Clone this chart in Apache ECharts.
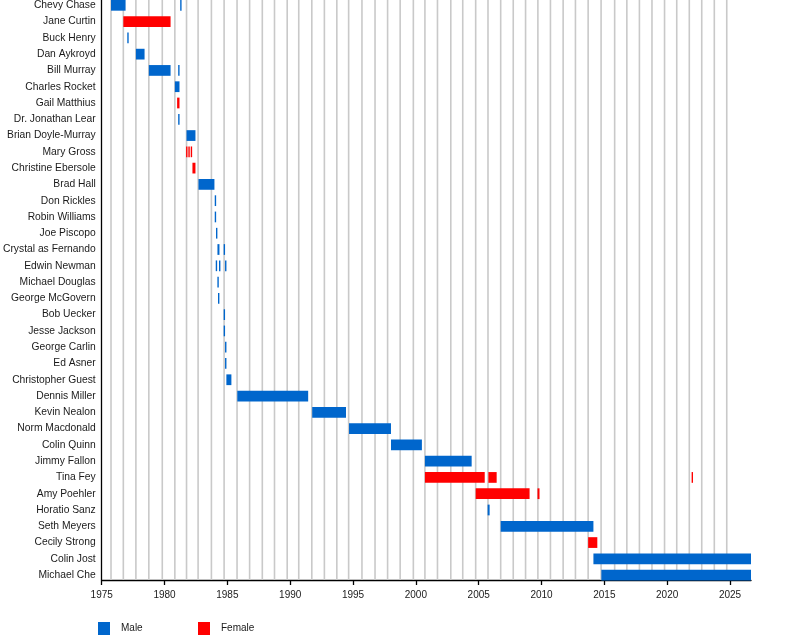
<!DOCTYPE html>
<html>
<head>
<meta charset="utf-8">
<script src="https://cdn.jsdelivr.net/npm/echarts@6/dist/echarts.min.js"></script>
<style>
  html, body { margin: 0; padding: 0; background: #fff; }
  #chart { width: 800px; height: 640px; }
</style>
</head>
<body>
<div id="chart"></div>
<script>
  const anchors = [
    "Chevy Chase", "Jane Curtin", "Buck Henry", "Dan Aykroyd", "Bill Murray",
    "Charles Rocket", "Gail Matthius", "Dr. Jonathan Lear", "Brian Doyle-Murray",
    "Mary Gross", "Christine Ebersole", "Brad Hall", "Don Rickles", "Robin Williams",
    "Joe Piscopo", "Crystal as Fernando", "Edwin Newman", "Michael Douglas",
    "George McGovern", "Bob Uecker", "Jesse Jackson", "George Carlin", "Ed Asner",
    "Christopher Guest", "Dennis Miller", "Kevin Nealon", "Norm Macdonald",
    "Colin Quinn", "Jimmy Fallon", "Tina Fey", "Amy Poehler", "Horatio Sanz",
    "Seth Meyers", "Cecily Strong", "Colin Jost", "Michael Che"
  ];
  const genders = [
    "Male", "Female", "Male", "Male", "Male",
    "Male", "Female", "Male", "Male",
    "Female", "Female", "Male", "Male", "Male",
    "Male", "Male", "Male", "Male",
    "Male", "Male", "Male", "Male", "Male",
    "Male", "Male", "Male", "Male",
    "Male", "Male", "Female", "Female", "Male",
    "Male", "Female", "Male", "Male"
  ];
  // [anchor index, start year, end year]; start == end is a single appearance
  const stints = [
    [0, 1975.74, 1976.90], [0, 1981.30, 1981.30],
    [1, 1976.72, 1980.48],
    [2, 1977.09, 1977.09],
    [3, 1977.72, 1978.41],
    [4, 1978.75, 1980.48], [4, 1981.14, 1981.14],
    [5, 1980.82, 1981.19],
    [6, 1981.00, 1981.19],
    [7, 1981.14, 1981.14],
    [8, 1981.75, 1982.46],
    [9, 1981.77, 1981.77], [9, 1981.95, 1981.95], [9, 1982.14, 1982.14],
    [10, 1982.22, 1982.46],
    [11, 1982.70, 1983.97],
    [12, 1984.05, 1984.05],
    [13, 1984.05, 1984.05],
    [14, 1984.15, 1984.15],
    [15, 1984.21, 1984.37], [15, 1984.76, 1984.76],
    [16, 1984.13, 1984.13], [16, 1984.39, 1984.39], [16, 1984.87, 1984.87],
    [17, 1984.26, 1984.26],
    [18, 1984.31, 1984.31],
    [19, 1984.76, 1984.76],
    [20, 1984.76, 1984.76],
    [21, 1984.87, 1984.87],
    [22, 1984.87, 1984.87],
    [23, 1984.92, 1985.32],
    [24, 1985.79, 1991.43],
    [25, 1991.75, 1994.44],
    [26, 1994.68, 1998.02],
    [27, 1998.02, 2000.48],
    [28, 2000.72, 2004.44],
    [29, 2000.72, 2005.48], [29, 2005.77, 2006.43], [29, 2022.00, 2022.00],
    [30, 2004.76, 2009.05], [30, 2009.68, 2009.84],
    [31, 2005.71, 2005.87],
    [32, 2006.75, 2014.13],
    [33, 2013.71, 2014.44],
    [34, 2014.13, 2026.67],
    [35, 2014.76, 2026.67]
  ];
  const seasonStarts = [
    1975.74, 1976.72, 1977.72, 1978.75, 1979.82, 1980.82, 1981.75, 1982.67,
    1983.73, 1984.74, 1985.77, 1986.77, 1987.78, 1988.75, 1989.76, 1990.68,
    1991.72, 1992.72, 1993.71, 1994.65, 1995.71, 1996.75, 1997.75, 1998.75,
    1999.80, 2000.72, 2001.72, 2002.78, 2003.73, 2004.76, 2005.74, 2006.75,
    2007.75, 2008.73, 2009.71, 2010.71, 2011.72, 2012.70, 2013.71, 2014.74,
    2015.82, 2016.79, 2017.79, 2018.79, 2019.79, 2020.76, 2021.76, 2022.75,
    2023.75, 2024.74
  ];
  const yearTicks = [1975, 1980, 1985, 1990, 1995, 2000, 2005, 2010, 2015, 2020, 2025];
  const rowIndexes = anchors.map(function (name, i) { return i; });

  const colors = { Male: "#0066cc", Female: "#ff0000" };
  const textColor = "#1a1a1a";
  const fontFamily = "'Liberation Sans', Arial, sans-serif";

  function stintsFor(gender) {
    return stints.filter(function (s) { return genders[s[0]] === gender; });
  }

  function renderStint(params, api) {
    const row = api.value(0);
    const p0 = api.coord([api.value(1), row]);
    const p1 = api.coord([api.value(2), row]);
    const h = api.size([0, 1])[1] * 0.66;
    let x = p0[0];
    let w = p1[0] - p0[0];
    if (w < 1.4) {
      x = (p0[0] + p1[0]) / 2 - 0.7;
      w = 1.4;
    }
    return {
      type: "rect",
      shape: { x: x, y: p0[1] - h / 2, width: w, height: h },
      style: { fill: api.visual("color") }
    };
  }

  function renderSeason(params, api) {
    const cs = params.coordSys;
    const p = api.coord([api.value(0), 0]);
    return {
      type: "line",
      shape: { x1: p[0], y1: cs.y, x2: p[0], y2: cs.y + cs.height },
      style: { stroke: "#c9c9c9", lineWidth: 1.6 }
    };
  }

  const chart = echarts.init(document.getElementById("chart"));

  function genderSeries(gender) {
    return {
      name: gender,
      type: "custom",
      renderItem: renderStint,
      data: stintsFor(gender),
      encode: { x: [1, 2], y: 0 },
      itemStyle: { color: colors[gender] },
      z: 3,
      silent: true
    };
  }

  function legendFor(gender, left) {
    return {
      data: [gender],
      left: left,
      top: 622,
      padding: 0,
      icon: "rect",
      itemWidth: 12,
      itemHeight: 13,
      selectedMode: false,
      textStyle: {
        color: textColor,
        fontSize: 10,
        fontFamily: fontFamily,
        padding: [0, 0, 0, 6]
      }
    };
  }

  chart.setOption({
    animation: false,
    legend: [legendFor("Male", 98), legendFor("Female", 198)],
    grid: { left: 100, right: 49, top: 0, bottom: 60, containLabel: false },
    xAxis: {
      type: "value",
      position: "bottom",
      min: 1975,
      max: 2026.67,
      splitLine: { show: false },
      axisLine: { show: true, onZero: false, lineStyle: { color: "#000", width: 1.3 } },
      axisTick: { show: true, length: 5, customValues: yearTicks, lineStyle: { color: "#000", width: 1.3 } },
      axisLabel: {
        customValues: yearTicks,
        color: textColor,
        fontSize: 10,
        fontFamily: fontFamily,
        margin: 10,
        formatter: function (v) { return String(Math.round(v)); }
      }
    },
    yAxis: {
      type: "value",
      position: "left",
      inverse: true,
      min: -0.326,
      max: 35.3,
      splitLine: { show: false },
      axisLine: { show: true, onZero: false, lineStyle: { color: "#000", width: 1.3 } },
      axisTick: { show: false },
      axisLabel: {
        customValues: rowIndexes,
        color: textColor,
        fontSize: 10.3,
        fontFamily: fontFamily,
        margin: 6,
        padding: [2, 0, 0, 0],
        formatter: function (v) { return anchors[Math.round(v)] || ""; }
      }
    },
    series: [
      {
        name: "Seasons",
        type: "custom",
        renderItem: renderSeason,
        data: seasonStarts.map(function (v) { return [v]; }),
        encode: { x: 0 },
        z: 1,
        silent: true
      },
      genderSeries("Male"),
      genderSeries("Female")
    ]
  });
</script>
</body>
</html>
